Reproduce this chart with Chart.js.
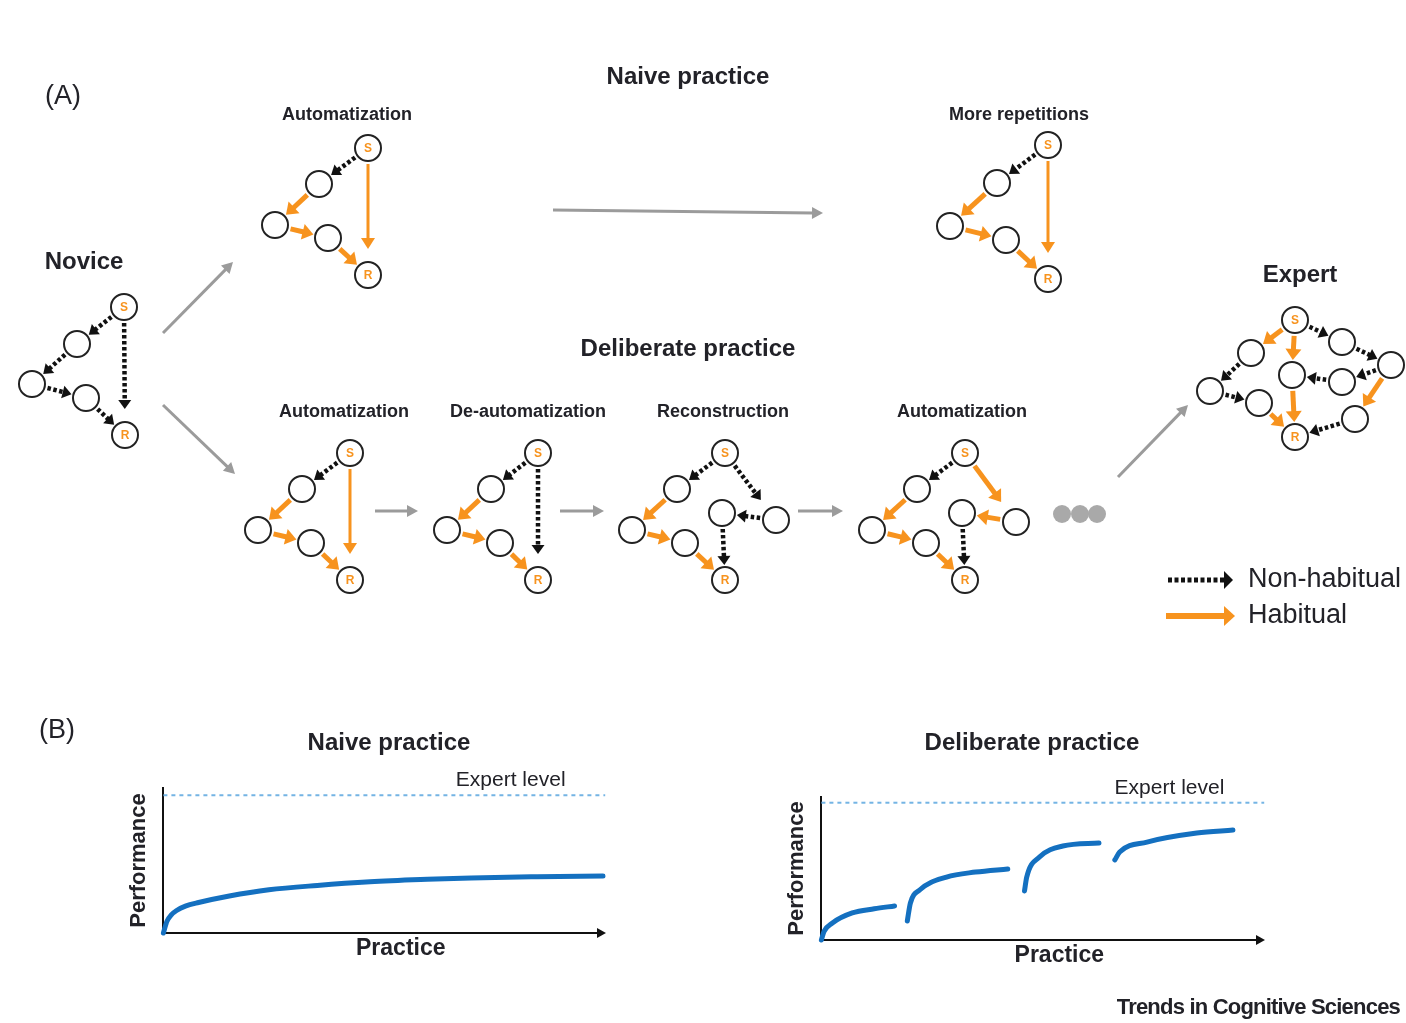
<!DOCTYPE html>
<html>
<head>
<meta charset="utf-8">
<title>Naive vs deliberate practice</title>
<script src="https://cdn.jsdelivr.net/npm/chart.js@4.4.0/dist/chart.umd.min.js"></script>
<style>
    body { margin: 0; background: #fff; }
    #page { position: relative; width: 1406px; height: 1023px; overflow: hidden; }
    #page canvas { position: absolute; }
</style>
</head>
<body>
<div id="page">
    <canvas id="diagram" width="1406" height="1023" style="left:0;top:0"></canvas>
    <canvas id="naiveChart" width="494" height="205" style="left:126px;top:760px"></canvas>
    <canvas id="deliberateChart" width="495" height="202" style="left:784px;top:770px"></canvas>
</div>
<script>
const FONT = '"Liberation Sans", Arial, Helvetica, sans-serif';
const INK = '#222228';
const ORANGE = '#F7931E';
const BLUE = '#1470C0';
const EXPERT_BLUE = '#74B4E4';

// ---- Panel (A): node positions (S first, R fifth) ----
const noviceNodes = [[124, 307], [77, 344], [32, 384], [86, 398], [125, 435]];
const naiveAutoNodes = [[368, 148], [319, 184], [275, 225], [328, 238], [368, 275]];
const moreRepNodes = [[1048, 145], [997, 183], [950, 226], [1006, 240], [1048, 279]];
const delibAutoNodes = [[350, 453], [302, 489], [258, 530], [311, 543], [350, 580]];
const deAutoNodes = [[538, 453], [491, 489], [447, 530], [500, 543], [538, 580]];
const reconNodes = [[725, 453], [677, 489], [632, 530], [685, 543], [725, 580], [722, 513], [776, 520]];
const auto2Nodes = [[965, 453], [917, 489], [872, 530], [926, 543], [965, 580], [962, 513], [1016, 522]];
const expertNodes = [[1295, 320], [1251, 353], [1210, 391], [1259, 403], [1295, 437],
                     [1292, 375], [1342, 342], [1391, 365], [1342, 382], [1355, 419]];

// edges: [from, to, kind, extra end gap]   d = non-habitual, h = habitual, l = habitual (long)
const noviceEdges = [[0, 1, 'd'], [1, 2, 'd'], [2, 3, 'd'], [3, 4, 'd'], [0, 4, 'd', 11]];
const automatizedEdges = [[0, 1, 'd'], [1, 2, 'h'], [2, 3, 'h'], [3, 4, 'h'], [0, 4, 'l', 11]];
const deAutoEdges = [[0, 1, 'd'], [1, 2, 'h'], [2, 3, 'h'], [3, 4, 'h'], [0, 4, 'd', 11]];
const reconEdges = [[0, 1, 'd'], [1, 2, 'h'], [2, 3, 'h'], [3, 4, 'h'], [0, 6, 'd', 10], [6, 5, 'd'], [5, 4, 'd']];
const auto2Edges = [[0, 1, 'd'], [1, 2, 'h'], [2, 3, 'h'], [3, 4, 'h'], [0, 6, 'h', 10], [6, 5, 'h'], [5, 4, 'd']];
const expertEdges = [[0, 1, 'h'], [0, 5, 'h'], [0, 6, 'd'], [6, 7, 'd'], [7, 8, 'd'], [8, 5, 'd'],
                     [5, 4, 'h'], [1, 2, 'd'], [2, 3, 'd'], [3, 4, 'h'], [7, 9, 'h'], [9, 4, 'd']];

// grey transition arrows: [x1, y1, x2, y2]
const transitionArrows = [[163, 333, 233, 262], [163, 405, 235, 474], [553, 210, 823, 213],
                          [375, 511, 418, 511], [560, 511, 604, 511], [798, 511, 843, 511],
                          [1118, 477, 1188, 405]];
const ellipsisDots = [[1062, 514], [1080, 514], [1097, 514]];

// ---- Panel (B): performance curves ----
const naivePracticeX = [0, 0.8, 1.8, 3, 5, 8, 15, 24, 35, 47, 60, 70, 85, 100];
const naivePerformance = [0, 8, 12.5, 15.5, 18.5, 21, 25.5, 29.8, 32.8, 35.3, 37, 38, 38.8, 39.3];
const naiveExpertLevel = 95;

const delibSeg1X = [0, 0.6, 2.5, 7, 12, 16.6];
const delibSeg1Y = [0, 6, 11.9, 18.9, 21.8, 23.8];
const delibSeg2X = [19.5, 20.2, 22.3, 28.4, 35, 42.3];
const delibSeg2Y = [13.3, 25.9, 35, 44, 47.5, 49.7];
const delibSeg3X = [46.1, 46.6, 49.5, 54.8, 63];
const delibSeg3Y = [34.3, 44, 58, 65.7, 67.8];
const delibSeg4X = [66.6, 67.7, 73.9, 85.2, 93.4];
const delibSeg4Y = [56, 61.5, 68.5, 74.8, 76.9];
const delibExpertLevel = 96;

// text of panel A / headings of panel B: [text, x, y, weight, size, align, letterSpacing]
const figureTexts = [
    ['(A)', 63, 97, 'normal', 27, 'center'],
    ['Naive practice', 688, 77, 'bold', 24, 'center'],
    ['Automatization', 347, 115, 'bold', 18, 'center'],
    ['More repetitions', 1019, 115, 'bold', 18, 'center'],
    ['Novice', 84, 262, 'bold', 24, 'center'],
    ['Expert', 1300, 275, 'bold', 24, 'center'],
    ['Deliberate practice', 688, 349, 'bold', 24, 'center'],
    ['Automatization', 344, 412, 'bold', 18, 'center'],
    ['De-automatization', 528, 412, 'bold', 18, 'center'],
    ['Reconstruction', 723, 412, 'bold', 18, 'center'],
    ['Automatization', 962, 412, 'bold', 18, 'center'],
    ['(B)', 57, 731, 'normal', 27, 'center'],
    ['Naive practice', 389, 743, 'bold', 24, 'center'],
    ['Deliberate practice', 1032, 743, 'bold', 24, 'center'],
    ['Trends in Cognitive Sciences', 1400, 1008, 'bold', 22, 'right', -0.8]
];

const legendItems = [
    { label: 'Non-habitual', kind: 'd', from: [1168, 580], to: [1233, 580] },
    { label: 'Habitual', kind: 'h', from: [1166, 616], to: [1235, 616] }
];

const panels = [
    { nodes: noviceNodes, edges: noviceEdges },
    { nodes: naiveAutoNodes, edges: automatizedEdges },
    { nodes: moreRepNodes, edges: automatizedEdges },
    { nodes: delibAutoNodes, edges: automatizedEdges },
    { nodes: deAutoNodes, edges: deAutoEdges },
    { nodes: reconNodes, edges: reconEdges },
    { nodes: auto2Nodes, edges: auto2Edges },
    { nodes: expertNodes, edges: expertEdges }
];

const NODE_R = 13;
const arrowStyles = {
    d: { color: '#111', width: 4.5, dash: [3.5, 2.5], head: 9, half: 6.5 },
    h: { color: ORANGE, width: 5, head: 11, half: 8 },
    l: { color: ORANGE, width: 3, head: 11, half: 7 },
    g: { color: '#9b9b9b', width: 3, head: 11, half: 6 },
    legendD: { color: '#111', width: 5, dash: [4, 2.5], head: 9, half: 9 },
    legendH: { color: ORANGE, width: 6, head: 11, half: 10 }
};

/**
 * Draws a straight arrow with a filled triangular head
 */
function drawArrow(ctx, x1, y1, x2, y2, st) {
    const len = Math.hypot(x2 - x1, y2 - y1);
    const ux = (x2 - x1) / len, uy = (y2 - y1) / len;
    const bx = x2 - ux * st.head, by = y2 - uy * st.head;
    ctx.save();
    ctx.strokeStyle = st.color;
    ctx.fillStyle = st.color;
    ctx.lineWidth = st.width;
    ctx.lineCap = 'butt';
    ctx.setLineDash(st.dash || []);
    ctx.beginPath();
    ctx.moveTo(x1, y1);
    ctx.lineTo(bx + ux, by + uy);
    ctx.stroke();
    ctx.setLineDash([]);
    ctx.beginPath();
    ctx.moveTo(x2, y2);
    ctx.lineTo(bx - uy * st.half, by + ux * st.half);
    ctx.lineTo(bx + uy * st.half, by - ux * st.half);
    ctx.closePath();
    ctx.fill();
    ctx.restore();
}

/**
 * Arrows, labels and legend of panel (A)
 */
const diagramPlugin = {
    id: 'diagramPlugin',
    beforeDatasetsDraw(chart) {
        const { ctx, scales: { x, y } } = chart;
        const px = p => [x.getPixelForValue(p[0]), y.getPixelForValue(p[1])];

        panels.forEach(panel => {
            panel.edges.forEach(([a, b, kind, extra]) => {
                const [x1, y1] = px(panel.nodes[a]);
                const [x2, y2] = px(panel.nodes[b]);
                const len = Math.hypot(x2 - x1, y2 - y1);
                const ux = (x2 - x1) / len, uy = (y2 - y1) / len;
                const s = NODE_R + 3, e = NODE_R + 2 + (extra || 0);
                drawArrow(ctx, x1 + ux * s, y1 + uy * s, x2 - ux * e, y2 - uy * e, arrowStyles[kind]);
            });
        });

        transitionArrows.forEach(a => {
            const [x1, y1] = px([a[0], a[1]]);
            const [x2, y2] = px([a[2], a[3]]);
            drawArrow(ctx, x1, y1, x2, y2, arrowStyles.g);
        });

        legendItems.forEach(item => {
            const [x1, y1] = px(item.from);
            const [x2, y2] = px(item.to);
            drawArrow(ctx, x1, y1, x2, y2, item.kind === 'd' ? arrowStyles.legendD : arrowStyles.legendH);
        });
    },
    afterDatasetsDraw(chart) {
        const { ctx, scales: { x, y } } = chart;
        ctx.save();
        ctx.textBaseline = 'middle';

        // S / R labels inside the nodes
        ctx.fillStyle = ORANGE;
        ctx.textAlign = 'center';
        ctx.font = `bold 12px ${FONT}`;
        panels.forEach(panel => {
            ctx.fillText('S', x.getPixelForValue(panel.nodes[0][0]), y.getPixelForValue(panel.nodes[0][1]) + 1);
            ctx.fillText('R', x.getPixelForValue(panel.nodes[4][0]), y.getPixelForValue(panel.nodes[4][1]) + 1);
        });

        ctx.fillStyle = INK;
        figureTexts.forEach(([text, tx, ty, weight, size, align, spacing]) => {
            ctx.font = `${weight} ${size}px ${FONT}`;
            ctx.textAlign = align;
            ctx.letterSpacing = (spacing || 0) + 'px';
            ctx.fillText(text, x.getPixelForValue(tx), y.getPixelForValue(ty));
        });
        ctx.letterSpacing = '0px';

        ctx.font = `27px ${FONT}`;
        ctx.textAlign = 'left';
        legendItems.forEach(item => {
            ctx.fillText(item.label, x.getPixelForValue(1248), y.getPixelForValue(item.to[1]));
        });
        ctx.restore();
    }
};

const nodeDatasets = panels.map(panel => ({
    data: panel.nodes.map(n => ({ x: n[0], y: n[1] })),
    pointRadius: NODE_R,
    pointBackgroundColor: '#fff',
    pointBorderColor: '#222',
    pointBorderWidth: 2
}));
nodeDatasets.push({
    data: ellipsisDots.map(d => ({ x: d[0], y: d[1] })),
    pointRadius: 9,
    pointBackgroundColor: '#a9a9a9',
    pointBorderWidth: 0
});

new Chart(document.getElementById('diagram'), {
    type: 'scatter',
    data: { datasets: nodeDatasets },
    options: {
        responsive: false,
        animation: false,
        events: [],
        layout: { padding: 0, autoPadding: false },
        plugins: { legend: { display: false }, tooltip: { enabled: false } },
        scales: {
            x: { type: 'linear', min: 0, max: 1406, display: false },
            y: { type: 'linear', min: 0, max: 1023, reverse: true, display: false }
        }
    },
    plugins: [diagramPlugin]
});

/**
 * Axis arrow, "Expert level" and "Practice" labels for the panel (B) charts
 */
const practiceAxisPlugin = {
    id: 'practiceAxis',
    afterDraw(chart) {
        const { ctx, chartArea, scales: { x, y } } = chart;
        const expert = chart.options.plugins.practiceAxis.expertLevel;
        ctx.save();
        ctx.fillStyle = '#111';
        ctx.beginPath();
        ctx.moveTo(chartArea.right + 3, chartArea.bottom);
        ctx.lineTo(chartArea.right - 6, chartArea.bottom - 5);
        ctx.lineTo(chartArea.right - 6, chartArea.bottom + 5);
        ctx.closePath();
        ctx.fill();

        ctx.fillStyle = INK;
        ctx.textAlign = 'center';
        ctx.textBaseline = 'middle';
        ctx.font = `21px ${FONT}`;
        ctx.fillText('Expert level', x.getPixelForValue(79), y.getPixelForValue(expert) - 15);
        ctx.font = `bold 23px ${FONT}`;
        ctx.fillText('Practice', x.getPixelForValue(54), chartArea.bottom + 16);
        ctx.restore();
    }
};

function toPoints(xs, ys) {
    return xs.map((v, i) => ({ x: v, y: ys[i] }));
}

function curveDataset(points) {
    return {
        data: points,
        borderColor: BLUE,
        borderWidth: 5,
        borderCapStyle: 'round',
        pointRadius: 0,
        cubicInterpolationMode: 'monotone',
        clip: false
    };
}

function expertDataset(level) {
    return {
        data: [{ x: 0, y: level }, { x: 100.5, y: level }],
        borderColor: EXPERT_BLUE,
        borderWidth: 2,
        borderDash: [4, 4],
        pointRadius: 0,
        clip: false
    };
}

function practiceChart(canvasId, datasets, expertLevel, padTop) {
    const axisBorder = { display: true, color: '#111', width: 2 };
    return new Chart(document.getElementById(canvasId), {
        type: 'line',
        data: { datasets },
        options: {
            responsive: false,
            animation: false,
            events: [],
            layout: { padding: { top: padTop, right: 17, bottom: 32, left: 0 }, autoPadding: false },
            plugins: {
                legend: { display: false },
                tooltip: { enabled: false },
                practiceAxis: { expertLevel }
            },
            scales: {
                x: {
                    type: 'linear', min: 0, max: 100,
                    grid: { display: false, drawTicks: false },
                    ticks: { display: false },
                    border: axisBorder
                },
                y: {
                    type: 'linear', min: 0, max: 100,
                    grid: { display: false, drawTicks: false },
                    ticks: { display: false },
                    border: axisBorder,
                    title: {
                        display: true,
                        text: 'Performance',
                        color: INK,
                        font: { family: FONT, size: 22, weight: 'bold' },
                        padding: { top: 0, bottom: 11 }
                    }
                }
            }
        },
        plugins: [practiceAxisPlugin]
    });
}

practiceChart('naiveChart', [
    expertDataset(naiveExpertLevel),
    curveDataset(toPoints(naivePracticeX, naivePerformance))
], naiveExpertLevel, 28);

practiceChart('deliberateChart', [
    expertDataset(delibExpertLevel),
    curveDataset(toPoints(delibSeg1X, delibSeg1Y)),
    curveDataset(toPoints(delibSeg2X, delibSeg2Y)),
    curveDataset(toPoints(delibSeg3X, delibSeg3Y)),
    curveDataset(toPoints(delibSeg4X, delibSeg4Y))
], delibExpertLevel, 27);
</script>
</body>
</html>
